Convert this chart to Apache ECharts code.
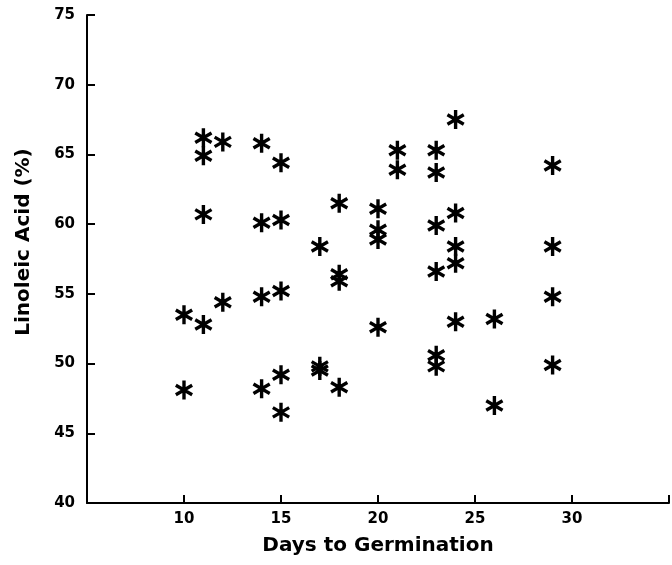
<!DOCTYPE html>
<html>
<head>
<meta charset="utf-8">
<script src="https://cdn.jsdelivr.net/npm/echarts@6/dist/echarts.min.js"></script>
<style>html,body{margin:0;padding:0;background:#fff;}#chart{width:672px;height:565px;}</style>
</head>
<body>
<div id="chart"></div>
<script>
// Days to germination (x) and linoleic acid % (y)
const days = [10,10, 11,11,11,11, 12,12, 14,14,14,14, 15,15,15,15,15, 17,17,17, 18,18,18,18, 20,20,20,20, 21,21, 23,23,23,23,23,23, 24,24,24,24,24, 26,26, 29,29,29,29];
const linoleic = [53.5,48.1, 66.2,64.9,60.7,52.8, 65.9,54.4, 65.8,60.1,54.8,48.2, 64.4,60.3,55.2,49.2,46.5, 58.4,49.8,49.5, 61.5,56.4,55.9,48.3, 61.1,59.6,58.9,52.6, 65.3,63.9, 65.3,63.7,59.9,56.6,50.6,49.8, 67.5,60.8,58.4,57.2,53.0, 53.2,47.0, 64.2,58.4,54.8,49.9];
const xTicks = [10, 15, 20, 25, 30];
const yTicks = [40, 45, 50, 55, 60, 65, 70, 75];

const points = days.map((d, i) => [d, linoleic[i]]);
const asterisk = 'path://M8.2 0L11.8 0L11.8 20L8.2 20Z' +
  'M2.24 3.44L19.56 13.44L17.76 16.56L0.44 6.56Z' +
  'M0.44 13.44L17.76 3.44L19.56 6.56L2.24 16.56Z';

const font = 'DejaVu Sans';
const chart = echarts.init(document.getElementById('chart'));
chart.setOption({
  animation: false,
  backgroundColor: '#fff',
  grid: { left: 87, right: -2, top: 15, bottom: 62, containLabel: false },
  xAxis: {
    type: 'value', min: 5, max: 35, interval: 5,
    name: 'Days to Germination', nameLocation: 'middle', nameGap: 33,
    nameTextStyle: { fontFamily: font, fontWeight: 'bold', fontSize: 20, color: '#000' },
    axisLine: { lineStyle: { color: '#000', width: 2 } },
    axisTick: { inside: true, length: 8, lineStyle: { color: '#000', width: 2 } },
    axisLabel: { fontFamily: font, fontWeight: 'bold', fontSize: 15, color: '#000', margin: 9,
      formatter: v => xTicks.indexOf(v) >= 0 ? String(v) : '' },
    splitLine: { show: false }
  },
  yAxis: {
    type: 'value', min: 40, max: 75, interval: 5,
    name: 'Linoleic Acid (%)', nameLocation: 'middle', nameGap: 53, nameRotate: 90,
    nameTextStyle: { fontFamily: font, fontWeight: 'bold', fontSize: 20, color: '#000', padding: [0, 0, 0, 34] },
    axisLine: { lineStyle: { color: '#000', width: 2 } },
    axisTick: { inside: true, length: 8, lineStyle: { color: '#000', width: 2 } },
    axisLabel: { fontFamily: font, fontWeight: 'bold', fontSize: 15, color: '#000', margin: 12,
      formatter: v => yTicks.indexOf(v) >= 0 ? String(v) : '' },
    splitLine: { show: false }
  },
  series: [{
    type: 'scatter',
    data: points,
    symbol: asterisk,
    symbolSize: [18, 19],
    itemStyle: { color: '#000', opacity: 1 }
  }]
});
</script>
</body>
</html>
